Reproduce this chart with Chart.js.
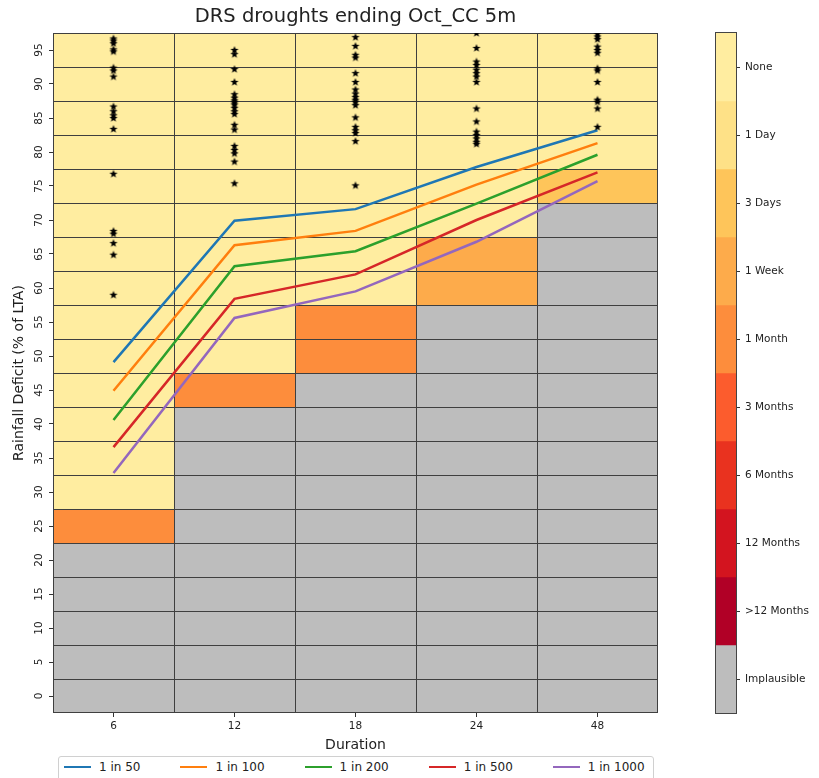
<!DOCTYPE html>
<html>
<head>
<meta charset="utf-8">
<script src="https://cdn.jsdelivr.net/npm/chart.js@4/dist/chart.umd.min.js"></script>
<style>
  body { margin: 0; background: #fff; }
  #wrap { position: relative; width: 819px; height: 778px; overflow: hidden; }
  #main { position: absolute; left: 0; top: 0; }
  #cbar { position: absolute; left: 700px; top: 0; }
  #legend {
    position: absolute; left: 58px; top: 756px; width: 596px; height: 30px;
    border: 1px solid #d0d0d0; border-radius: 3px; background: #fff;
    display: flex; align-items: flex-start; gap: 40px; box-sizing: border-box;
    padding: 3px 0 0 5px; font: 12px "DejaVu Sans", sans-serif; color: #222;
  }
  #legend .item { display: flex; align-items: center; white-space: nowrap; }
  #legend .swatch { width: 27px; height: 2.5px; margin-right: 8px; }
</style>
</head>
<body>
<div id="wrap">
  <canvas id="main" width="819" height="778"></canvas>
  <canvas id="cbar" width="119" height="778"></canvas>
  <div id="legend"></div>
</div>
<script>
// ---- data ----
const durations = ['6', '12', '18', '24', '48'];
const deficitRows = [0, 5, 10, 15, 20, 25, 30, 35, 40, 45, 50, 55, 60, 65, 70, 75, 80, 85, 90, 95];

const severityClasses = ['None', '1 Day', '3 Days', '1 Week', '1 Month', '3 Months', '6 Months', '12 Months', '>12 Months', 'Implausible'];
const severityColors = ['#ffeda0', '#fee187', '#fec55a', '#fdab4b', '#fd8d3c', '#fc5c2d', '#e9321f', '#d3141f', '#b10026', '#bdbdbd'];

// severity class index per row (0 -> 95) for each duration
const cells6  = [9, 9, 9, 9, 9, 4, 0, 0, 0, 0, 0, 0, 0, 0, 0, 0, 0, 0, 0, 0];
const cells12 = [9, 9, 9, 9, 9, 9, 9, 9, 9, 4, 0, 0, 0, 0, 0, 0, 0, 0, 0, 0];
const cells18 = [9, 9, 9, 9, 9, 9, 9, 9, 9, 9, 4, 4, 0, 0, 0, 0, 0, 0, 0, 0];
const cells24 = [9, 9, 9, 9, 9, 9, 9, 9, 9, 9, 9, 9, 3, 3, 0, 0, 0, 0, 0, 0];
const cells48 = [9, 9, 9, 9, 9, 9, 9, 9, 9, 9, 9, 9, 9, 9, 9, 2, 0, 0, 0, 0];

const returnPeriods = ['1 in 50', '1 in 100', '1 in 200', '1 in 500', '1 in 1000'];
const returnColors = ['#1f77b4', '#ff7f0e', '#2ca02c', '#d62728', '#9467bd'];
const rp50   = [49.1, 69.9, 71.6, 77.8, 83.2];
const rp100  = [44.9, 66.3, 68.4, 75.2, 81.3];
const rp200  = [40.6, 63.2, 65.4, 72.4, 79.6];
const rp500  = [36.6, 58.4, 62.0, 70.0, 77.0];
const rp1000 = [32.8, 55.6, 59.5, 66.8, 75.7];

// observed drought events (stars)
const events6  = [96.7, 96.4, 96.0, 95.1, 94.8, 92.4, 92.0, 91.1, 86.7, 86.0, 85.4, 85.0, 83.4, 76.8, 68.4, 68.0, 66.6, 64.9, 59.0];
const events12 = [95.0, 94.4, 92.2, 90.3, 88.5, 88.0, 87.6, 87.3, 87.0, 86.5, 86.0, 85.6, 84.0, 83.3, 80.9, 80.3, 79.8, 78.6, 75.4];
const events18 = [96.9, 95.6, 94.3, 93.9, 91.6, 90.3, 89.2, 88.6, 88.1, 87.7, 87.4, 86.9, 85.1, 83.7, 83.2, 82.8, 81.6, 75.1];
const events24 = [97.5, 95.3, 93.3, 92.8, 92.1, 91.6, 91.1, 90.3, 86.4, 84.5, 83.0, 82.5, 82.0, 81.5, 81.2];
const events48 = [97.4, 97.0, 96.6, 95.5, 95.0, 94.6, 92.3, 92.0, 90.3, 87.7, 87.4, 86.4, 83.7];

// ---- chart setup ----
Chart.defaults.font.family = '"DejaVu Sans", sans-serif';
Chart.defaults.color = '#222';

const cellsByDuration = [cells6, cells12, cells18, cells24, cells48];
const returnSeries = [rp50, rp100, rp200, rp500, rp1000];
const eventsByDuration = [events6, events12, events18, events24, events48];
const halfRow = (deficitRows[1] - deficitRows[0]) / 2;
const lastCol = durations.length - 1;

// filled five-point star, like matplotlib's '*' marker
function makeStar() {
  const c = document.createElement('canvas');
  c.width = 10; c.height = 10;
  const g = c.getContext('2d');
  g.beginPath();
  for (let i = 0; i < 10; i++) {
    const r = i % 2 === 0 ? 4.3 : 1.8;
    const a = -Math.PI / 2 + i * Math.PI / 5;
    g.lineTo(5 + r * Math.cos(a), 5.3 + r * Math.sin(a));
  }
  g.closePath();
  g.fillStyle = '#000';
  g.fill();
  return c;
}
const star = makeStar();

const cellDatasets = deficitRows.map((level, r) => ({
  type: 'bar',
  order: 2,
  data: durations.map(() => [level - halfRow, level + halfRow]),
  backgroundColor: cellsByDuration.map(col => severityColors[col[r]]),
  borderColor: '#3f3f3f',
  borderWidth: ctx => ({ top: 1, left: 1, right: ctx.dataIndex === lastCol ? 1 : 0, bottom: r === 0 ? 1 : 0 }),
  borderSkipped: false,
  inflateAmount: 0,
  grouped: false,
  barPercentage: 1,
  categoryPercentage: 1
}));

const lineDatasets = returnPeriods.map((name, i) => ({
  type: 'line',
  label: name,
  order: 1,
  data: returnSeries[i],
  borderColor: returnColors[i],
  backgroundColor: returnColors[i],
  borderWidth: 2.5,
  pointRadius: 0,
  tension: 0
}));

const eventPoints = [];
eventsByDuration.forEach((list, c) => list.forEach(v => eventPoints.push({ x: durations[c], y: v })));

const starDataset = {
  type: 'line',
  label: 'events',
  order: 0,
  data: eventPoints,
  showLine: false,
  pointStyle: star,
  pointRadius: 4,
  clip: 0
};

new Chart(document.getElementById('main'), {
  type: 'bar',
  data: { labels: durations, datasets: [...cellDatasets, ...lineDatasets, starDataset] },
  options: {
    responsive: false,
    animation: false,
    events: [],
    layout: { padding: { left: 0, right: 161, top: 0, bottom: 22 } },
    plugins: {
      legend: { display: false },
      tooltip: { enabled: false },
      title: {
        display: true,
        fullSize: false,
        text: 'DRS droughts ending Oct_CC 5m',
        font: { size: 19.5, weight: 'normal' },
        padding: { top: 5, bottom: 4.6 }
      }
    },
    scales: {
      x: {
        type: 'category',
        offset: true,
        grid: { display: true, drawOnChartArea: false, offset: false, tickLength: 4, color: '#333' },
        border: { display: false },
        ticks: { font: { size: 10.5 }, padding: 3, maxRotation: 0 },
        title: { display: true, text: 'Duration', font: { size: 14 }, padding: { top: 0, bottom: 2.6 } },
        afterFit: s => { s.height = 43; }
      },
      y: {
        type: 'linear',
        min: deficitRows[0] - halfRow,
        max: deficitRows[deficitRows.length - 1] + halfRow,
        afterBuildTicks: s => { s.ticks = deficitRows.map(v => ({ value: v })); },
        grid: { display: true, drawOnChartArea: false, tickLength: 4, color: '#333' },
        border: { display: false },
        ticks: { font: { size: 10.5 }, padding: 3.5, minRotation: 90, maxRotation: 90, crossAlign: 'center' },
        title: { display: true, text: 'Rainfall Deficit (% of LTA)', font: { size: 14 }, padding: { top: 10.5, bottom: 0 } },
        afterFit: s => { s.width = 53; }
      }
    }
  }
});

// ---- colour bar ----
const frame = {
  id: 'frame',
  afterDraw(chart) {
    const a = chart.chartArea, g = chart.ctx;
    g.save();
    g.strokeStyle = '#444';
    g.lineWidth = 1;
    g.strokeRect(Math.round(a.left) - 0.5, Math.round(a.top) - 0.5, Math.round(a.right - a.left) + 1, Math.round(a.bottom - a.top) + 1);
    g.restore();
  }
};

new Chart(document.getElementById('cbar'), {
  type: 'bar',
  data: {
    labels: [''],
    datasets: severityClasses.map((name, i) => ({
      label: name,
      data: [[i, i + 1]],
      backgroundColor: severityColors[i],
      borderWidth: 0,
      grouped: false,
      barPercentage: 1,
      categoryPercentage: 1
    }))
  },
  options: {
    responsive: false,
    animation: false,
    events: [],
    layout: { padding: { left: 16, right: 0, top: 33, bottom: 65 } },
    plugins: { legend: { display: false }, tooltip: { enabled: false } },
    scales: {
      x: { display: false, offset: true },
      y: {
        position: 'right',
        reverse: true,
        min: 0,
        max: severityClasses.length,
        afterBuildTicks: s => { s.ticks = severityClasses.map((n, i) => ({ value: i + 0.5 })); },
        ticks: { font: { size: 10.5 }, padding: 5, callback: (v, i) => severityClasses[i] },
        grid: { display: true, drawOnChartArea: false, tickLength: 4, color: '#333' },
        border: { display: false },
        afterFit: s => { s.width = 83; }
      }
    }
  },
  plugins: [frame]
});

// ---- legend ----
const legend = document.getElementById('legend');
returnPeriods.forEach((name, i) => {
  const item = document.createElement('div');
  item.className = 'item';
  const sw = document.createElement('span');
  sw.className = 'swatch';
  sw.style.background = returnColors[i];
  const txt = document.createElement('span');
  txt.textContent = name;
  item.appendChild(sw);
  item.appendChild(txt);
  legend.appendChild(item);
});
</script>
</body>
</html>
